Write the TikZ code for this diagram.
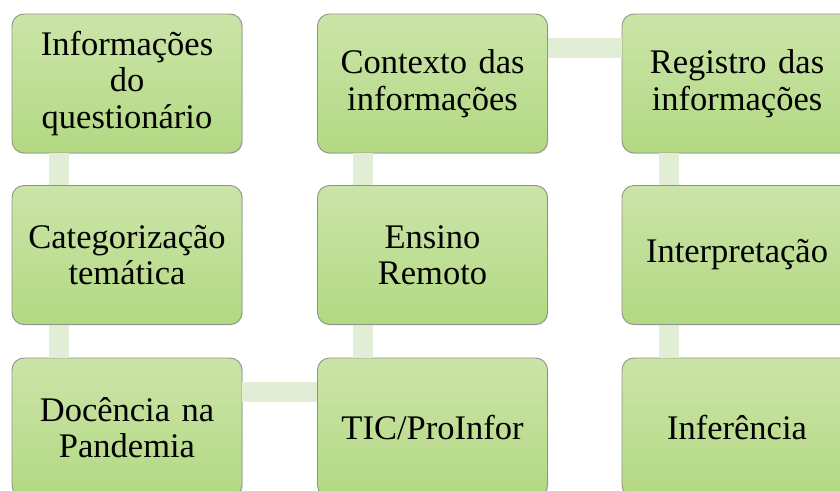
\documentclass[tikz,border=0pt]{standalone}
\usepackage{fontspec}
\setmainfont{Liberation Serif}
\usetikzlibrary{shadows}
\definecolor{boxtop}{HTML}{CBE4A8}
\definecolor{boxbot}{HTML}{B3D983}
\definecolor{boxline}{HTML}{8E9488}
\definecolor{connc}{HTML}{E1EED5}
\tikzset{
  stagebox/.style={rectangle, rounded corners=12pt, draw=boxline, line width=0.9pt,
    top color=boxtop, bottom color=boxbot, minimum width=230pt, minimum height=139pt,
    text width=222pt, align=center, inner sep=0pt,
    font=\fontsize{34.5pt}{36.5pt}\selectfont,
    drop shadow={shadow xshift=0.8pt, shadow yshift=-0.8pt, opacity=0.25}},
  conn/.style={draw=connc, line width=20pt}
}
\begin{document}
\begin{tikzpicture}[x=1pt,y=1pt]
\useasboundingbox (0,0) rectangle (840,-490);
\clip (0,0) rectangle (840,-490);
\path
 (127,-83.5) node[stagebox] (a) {Informações\\do\\questionário}
 (127,-255) node[stagebox] (b) {Categorização\\temática}
 (127,-427.5) node[stagebox] (c) {Docência na\\Pandemia}
 (432.5,-427.5) node[stagebox] (d) {TIC/ProInfor}
 (432.5,-255) node[stagebox] (e) {Ensino\\Remoto}
 (432.5,-83.5) node[stagebox] (f) {Contexto das\\informações}
 (737,-83.5) node[stagebox] (g) {Registro das\\informações}
 (737,-255) node[stagebox] (h) {Interpretação}
 (737,-427.5) node[stagebox] (i) {Inferência};
\draw[conn] ([xshift=47pt]a.south west) -- ([xshift=47pt]b.north west);
\draw[conn] ([xshift=47pt]b.south west) -- ([xshift=47pt]c.north west);
\draw[conn] ([yshift=-34.5pt]c.north east) -- ([yshift=-34.5pt]d.north west);
\draw[conn] ([xshift=46pt]e.south west) -- ([xshift=46pt]d.north west);
\draw[conn] ([xshift=46pt]f.south west) -- ([xshift=46pt]e.north west);
\draw[conn] ([yshift=-34pt]f.north east) -- ([yshift=-34pt]g.north west);
\draw[conn] ([xshift=47pt]g.south west) -- ([xshift=47pt]h.north west);
\draw[conn] ([xshift=47pt]h.south west) -- ([xshift=47pt]i.north west);
\end{tikzpicture}
\end{document}
